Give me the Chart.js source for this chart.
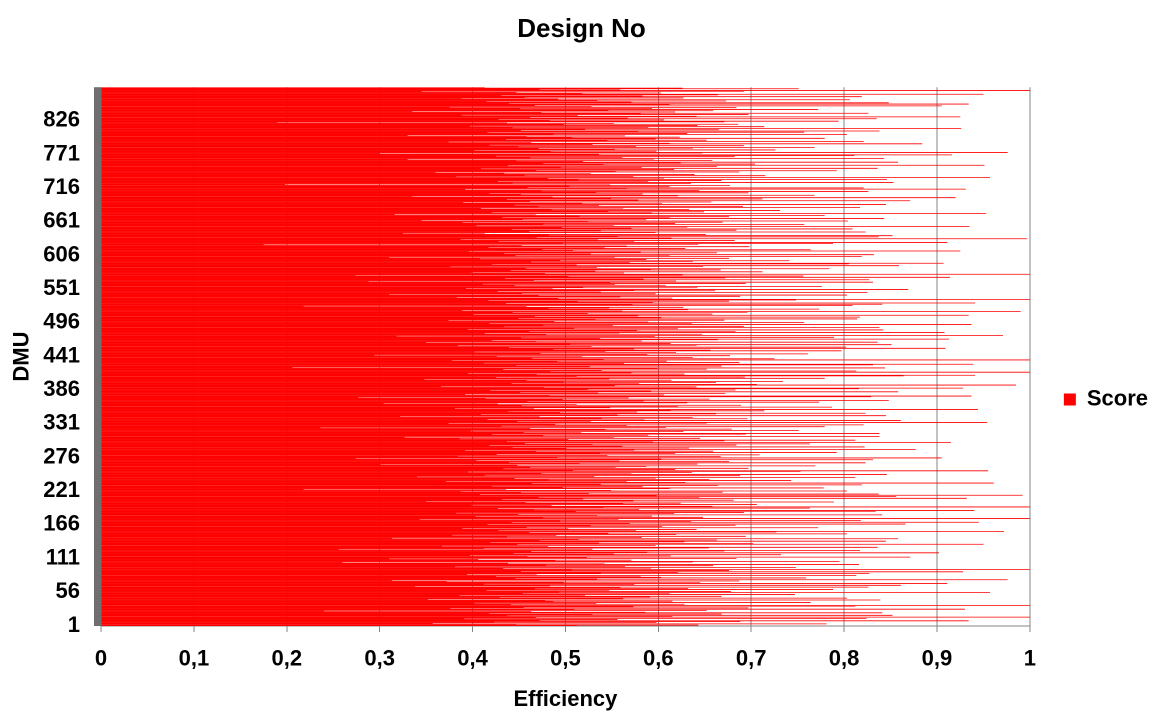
<!DOCTYPE html>
<html>
<head>
<meta charset="utf-8">
<title>Design No</title>
<script src="https://cdn.jsdelivr.net/npm/chart.js@4.4.1/dist/chart.umd.min.js"></script>
<style>
    html, body { margin: 0; padding: 0; background: #ffffff; }
    #wrap { width: 1150px; height: 713px; }
</style>
</head>
<body>
<div id="wrap"><canvas id="chart" width="1150" height="713"></canvas></div>
<script>
"use strict";

// efficiency score per DMU, DMU 1 first (rows of 20)
const scores = [
    0.512, 0.643, 0.447, 0.781, 0.357, 0.598, 0.423, 0.688, 0.934, 0.472, 0.556, 0.391, 0.824, 0.468, 1, 0.615, 0.437, 0.852, 0.529, 0.668,
    0.418, 0.841, 0.586, 0.463, 0.24, 0.652, 0.509, 0.93, 0.376, 0.697, 0.455, 0.573, 0.812, 1, 0.441, 0.628, 0.533, 0.402, 0.764, 0.487,
    0.615, 0.478, 0.839, 0.352, 0.562, 0.803, 0.429, 0.591, 0.668, 0.386, 0.521, 0.747, 0.454, 0.612, 0.957, 0.493, 0.678, 0.415, 0.547, 0.788,
    0.467, 0.632, 0.559, 0.826, 0.338, 0.483, 0.861, 0.574, 0.412, 0.911, 0.645, 0.498, 0.372, 0.687, 0.313, 0.976, 0.534, 0.446, 0.759, 0.603,
    0.425, 0.581, 0.813, 0.469, 0.394, 0.827, 0.538, 0.621, 0.928, 0.452, 0.676, 0.507, 1, 0.433, 0.592, 0.748, 0.381, 0.564, 0.659, 0.479,
    0.816, 0.542, 0.438, 0.26, 0.637, 0.795, 0.489, 0.571, 0.406, 0.31, 0.684, 0.523, 0.871, 0.459, 0.613, 0.397, 0.732, 0.552, 0.444, 0.902,
    0.588, 0.463, 0.671, 0.817, 0.256, 0.529, 0.412, 0.654, 0.836, 0.481, 0.367, 0.597, 0.448, 0.95, 0.702, 0.536, 0.419, 0.628, 0.845, 0.472,
    0.663, 0.514, 0.858, 0.313, 0.582, 0.437, 0.694, 0.49, 0.378, 0.619, 0.803, 0.546, 0.461, 0.727, 0.972, 0.428, 0.576, 0.641, 0.503, 0.389,
    0.772, 0.458, 0.604, 0.527, 0.683, 0.416, 0.866, 0.569, 0.442, 0.945, 0.635, 0.494, 0.818, 0.557, 0.343, 1, 0.476, 0.648, 0.403, 0.593,
    0.534, 0.841, 0.449, 0.617, 0.382, 0.692, 0.511, 0.834, 0.94, 0.466, 0.579, 0.427, 0.763, 0.541, 1, 0.658, 0.485, 0.399, 0.706, 0.562,
    0.624, 0.457, 0.789, 0.35, 0.573, 0.681, 0.432, 0.519, 0.932, 0.644, 0.471, 0.856, 0.598, 0.992, 0.408, 0.837, 0.525, 0.452, 0.669, 0.387,
    0.803, 0.549, 0.436, 0.218, 0.612, 0.778, 0.497, 0.583, 0.421, 0.664, 0.819, 0.538, 0.464, 0.961, 0.629, 0.371, 0.566, 0.743, 0.482, 0.655,
    0.445, 0.597, 0.812, 0.34, 0.531, 0.688, 0.413, 0.846, 0.571, 0.474, 0.636, 0.395, 0.753, 0.955, 0.508, 0.618, 0.433, 0.697, 0.554, 0.462,
    0.587, 0.769, 0.448, 0.301, 0.642, 0.515, 0.823, 0.439, 0.676, 0.558, 0.404, 0.831, 0.603, 0.274, 0.905, 0.491, 0.667, 0.384, 0.545, 0.709,
    0.426, 0.618, 0.537, 0.792, 0.468, 0.659, 0.392, 0.574, 0.877, 0.501, 0.633, 0.443, 0.822, 0.561, 0.418, 0.684, 0.529, 0.763, 0.456, 0.915,
    0.594, 0.437, 0.671, 0.812, 0.503, 0.386, 0.645, 0.552, 0.327, 0.838, 0.476, 0.589, 0.421, 0.694, 0.838, 0.517, 0.455, 0.627, 0.398, 0.751,
    0.543, 0.679, 0.462, 0.236, 0.608, 0.779, 0.431, 0.566, 0.821, 0.489, 0.374, 0.652, 0.954, 0.527, 0.448, 0.861, 0.585, 0.416, 0.696, 0.539,
    0.637, 0.472, 0.322, 0.845, 0.556, 0.409, 0.662, 0.823, 0.494, 0.577, 0.438, 0.714, 0.613, 0.944, 0.466, 0.381, 0.548, 0.787, 0.621, 0.453,
    0.689, 0.512, 0.427, 0.304, 0.631, 0.773, 0.459, 0.584, 0.848, 0.497, 0.655, 0.414, 0.568, 0.277, 0.829, 0.937, 0.483, 0.606, 0.392, 0.672,
    0.535, 0.451, 0.858, 0.592, 0.419, 0.683, 0.524, 0.816, 0.928, 0.477, 0.641, 0.366, 0.553, 0.985, 0.706, 0.442, 0.579, 0.662, 0.498, 0.734,
    0.458, 0.614, 0.348, 0.547, 0.779, 0.425, 0.693, 0.512, 0.864, 0.941, 0.469, 0.628, 0.395, 0.571, 1, 0.484, 0.813, 0.539, 0.433, 0.652,
    0.599, 0.844, 0.206, 0.526, 0.668, 0.447, 0.831, 0.939, 0.563, 0.412, 0.687, 0.491, 0.609, 0.378, 1, 0.541, 0.725, 0.464, 0.637, 0.518,
    0.426, 0.677, 0.294, 0.588, 0.761, 0.473, 0.619, 0.402, 0.543, 0.797, 0.656, 0.487, 0.574, 0.909, 0.439, 0.802, 0.528, 0.384, 0.641, 0.851,
    0.505, 0.613, 0.35, 0.836, 0.468, 0.582, 0.421, 0.664, 0.913, 0.537, 0.452, 0.789, 0.596, 0.318, 0.971, 0.479, 0.647, 0.413, 0.558, 0.908,
    0.683, 0.461, 0.577, 0.842, 0.395, 0.621, 0.509, 0.838, 0.434, 0.692, 0.551, 0.476, 0.937, 0.636, 0.418, 0.757, 0.589, 0.488, 0.374, 0.671,
    0.532, 0.814, 0.449, 0.603, 0.817, 0.467, 0.578, 0.934, 0.401, 0.658, 0.524, 0.443, 0.696, 0.99, 0.561, 0.389, 0.632, 0.773, 0.482, 0.547,
    0.627, 0.458, 0.218, 0.809, 0.572, 0.841, 0.436, 0.941, 0.594, 0.513, 0.676, 0.417, 0.748, 1, 0.492, 0.615, 0.383, 0.559, 0.688, 0.471,
    0.803, 0.31, 0.597, 0.453, 0.825, 0.538, 0.427, 0.661, 0.574, 0.869, 0.486, 0.393, 0.642, 0.519, 0.776, 0.445, 0.608, 0.553, 0.411, 0.694,
    0.548, 0.831, 0.288, 0.619, 0.466, 0.827, 0.584, 0.435, 0.672, 0.914, 0.503, 0.756, 0.274, 0.626, 1, 0.478, 0.563, 0.399, 0.712, 0.532,
    0.441, 0.667, 0.592, 0.784, 0.457, 0.534, 0.376, 0.648, 0.859, 0.512, 0.421, 0.805, 0.907, 0.569, 0.463, 0.637, 0.741, 0.494, 0.587, 0.408,
    0.676, 0.31, 0.553, 0.819, 0.446, 0.612, 0.832, 0.527, 0.434, 0.663, 0.581, 0.396, 0.925, 0.508, 0.764, 0.475, 0.629, 0.542, 0.417, 0.698,
    0.566, 0.453, 0.175, 0.643, 0.788, 0.497, 0.911, 0.574, 0.428, 0.682, 0.535, 0.387, 0.997, 0.614, 0.469, 0.837, 0.556, 0.852, 0.482, 0.651,
    0.413, 0.325, 0.597, 0.823, 0.461, 0.538, 0.684, 0.442, 0.809, 0.571, 0.496, 0.631, 0.935, 0.404, 0.552, 0.757, 0.476, 0.618, 0.389, 0.669,
    0.524, 0.804, 0.345, 0.587, 0.454, 0.843, 0.612, 0.432, 0.676, 0.515, 0.779, 0.468, 0.316, 0.953, 0.593, 0.421, 0.649, 0.546, 0.731, 0.485,
    0.633, 0.409, 0.562, 0.817, 0.471, 0.691, 0.536, 0.445, 0.845, 0.604, 0.518, 0.39, 0.657, 0.462, 0.871, 0.578, 0.437, 0.712, 0.549, 0.92,
    0.486, 0.335, 0.621, 0.768, 0.452, 0.583, 0.418, 0.697, 0.533, 0.826, 0.474, 0.644, 0.392, 0.931, 0.566, 0.821, 0.459, 0.612, 0.504, 0.677,
    0.548, 0.198, 0.635, 0.443, 0.853, 0.589, 0.427, 0.668, 0.514, 0.846, 0.481, 0.606, 0.957, 0.382, 0.573, 0.715, 0.456, 0.639, 0.527, 0.434,
    0.36, 0.687, 0.554, 0.792, 0.468, 0.617, 0.409, 0.836, 0.582, 0.495, 0.663, 0.438, 0.951, 0.541, 0.704, 0.476, 0.624, 0.858, 0.519, 0.447,
    0.658, 0.33, 0.595, 0.843, 0.462, 0.561, 0.682, 0.425, 0.811, 0.916, 0.536, 0.3, 0.647, 0.976, 0.484, 0.598, 0.402, 0.726, 0.553, 0.471,
    0.637, 0.768, 0.449, 0.576, 0.692, 0.418, 0.529, 0.884, 0.612, 0.463, 0.374, 0.821, 0.545, 0.652, 0.436, 0.597, 0.779, 0.507, 0.623, 0.458,
    0.564, 0.33, 0.803, 0.487, 0.631, 0.416, 0.757, 0.578, 0.838, 0.452, 0.665, 0.521, 0.926, 0.443, 0.589, 0.714, 0.397, 0.642, 0.498, 0.686,
    0.552, 0.437, 0.19, 0.671, 0.794, 0.483, 0.606, 0.428, 0.835, 0.567, 0.462, 0.925, 0.641, 0.513, 0.388, 0.697, 0.581, 0.826, 0.474, 0.618,
    0.335, 0.659, 0.546, 0.772, 0.451, 0.593, 0.684, 0.375, 0.528, 0.905, 0.467, 0.612, 0.934, 0.439, 0.848, 0.571, 0.415, 0.673, 0.534, 0.806,
    0.492, 0.388, 0.627, 0.456, 0.819, 0.583, 0.431, 0.664, 0.95, 0.518, 0.603, 0.447, 0.345, 0.692, 1, 0.559, 0.472, 0.751, 0.626, 0.413
];

// DMU ids are just 1..n, one per score
const dmuLabels = scores.map((s, i) => String(i + 1));
const labelEvery = 55;          // Excel showed every 55th DMU: 1, 56, 111 ... 826
const xTicks = [0, 0.1, 0.2, 0.3, 0.4, 0.5, 0.6, 0.7, 0.8, 0.9, 1];

const FONT = "'Liberation Sans', Arial, sans-serif";
const GRID = "#868686";

// white page behind the chart, so the thin bars blend against white
const whiteBg = {
    id: "whiteBg",
    beforeDraw(chart) {
        const { ctx, width, height } = chart;
        ctx.save();
        ctx.fillStyle = "#ffffff";
        ctx.fillRect(0, 0, width, height);
        ctx.restore();
    }
};

// grey strip on the left side of the plot (Excel's axis wall)
const axisWall = {
    id: "axisWall",
    afterDraw(chart) {
        const { ctx, chartArea } = chart;
        ctx.save();
        ctx.fillStyle = "#6f6f6f";
        ctx.fillRect(chartArea.left - 7, chartArea.top, 7, chartArea.bottom - chartArea.top);
        ctx.restore();
    }
};

const ctx = document.getElementById("chart").getContext("2d");

new Chart(ctx, {
    type: "bar",
    data: {
        labels: dmuLabels,
        datasets: [{
            label: "Score",
            data: scores,
            backgroundColor: "#ff0000",
            borderWidth: 0,
            inflateAmount: 0.1,
            barPercentage: 1,
            categoryPercentage: 1
        }]
    },
    options: {
        indexAxis: "y",
        responsive: false,
        animation: false,
        devicePixelRatio: 2,   // drawn at 2x so the 880 thin bars blend like the original
        layout: { padding: { left: 5, right: -8, top: 0, bottom: 0 } },
        scales: {
            x: {
                min: 0,
                max: 1,
                afterBuildTicks: (axis) => { axis.ticks = xTicks.map(v => ({ value: v })); },
                afterFit: (axis) => { axis.height = 87; },
                grid: { color: GRID, lineWidth: 1, tickLength: 6, drawTicks: true },
                border: { color: GRID, width: 1 },
                ticks: {
                    padding: 14,
                    color: "#000",
                    font: { family: FONT, size: 22, weight: "bold" },
                    callback: (v) => String(Math.round(v * 10) / 10).replace(".", ",")
                },
                title: {
                    display: true,
                    text: "Efficiency",
                    color: "#000",
                    font: { family: FONT, size: 22, weight: "bold" },
                    padding: { top: 12, bottom: 0 }
                }
            },
            y: {
                reverse: true,
                afterFit: (axis) => { axis.width = 96; },
                grid: { display: false, drawTicks: false },
                border: { display: false },
                ticks: {
                    autoSkip: false,
                    padding: 21,
                    color: "#000",
                    font: { family: FONT, size: 22, weight: "bold" },
                    callback: function (v) {
                        return v % labelEvery === 0 ? this.getLabelForValue(v) : null;
                    }
                },
                title: {
                    display: true,
                    text: "DMU",
                    color: "#000",
                    font: { family: FONT, size: 22, weight: "bold" },
                    padding: 4
                }
            }
        },
        plugins: {
            title: {
                display: true,
                text: "Design No",
                color: "#000",
                font: { family: FONT, size: 26, weight: "bold" },
                padding: { top: 14, bottom: 42 }
            },
            legend: {
                position: "right",
                title: {
                    display: true,
                    text: " ",
                    font: { size: 20 },
                    padding: { top: 0, bottom: 62 }
                },
                labels: {
                    boxWidth: 12,
                    boxHeight: 12,
                    padding: 34,
                    color: "#000",
                    font: { family: FONT, size: 22, weight: "bold" }
                }
            },
            tooltip: { enabled: false }
        }
    },
    plugins: [whiteBg, axisWall]
});
</script>
</body>
</html>
